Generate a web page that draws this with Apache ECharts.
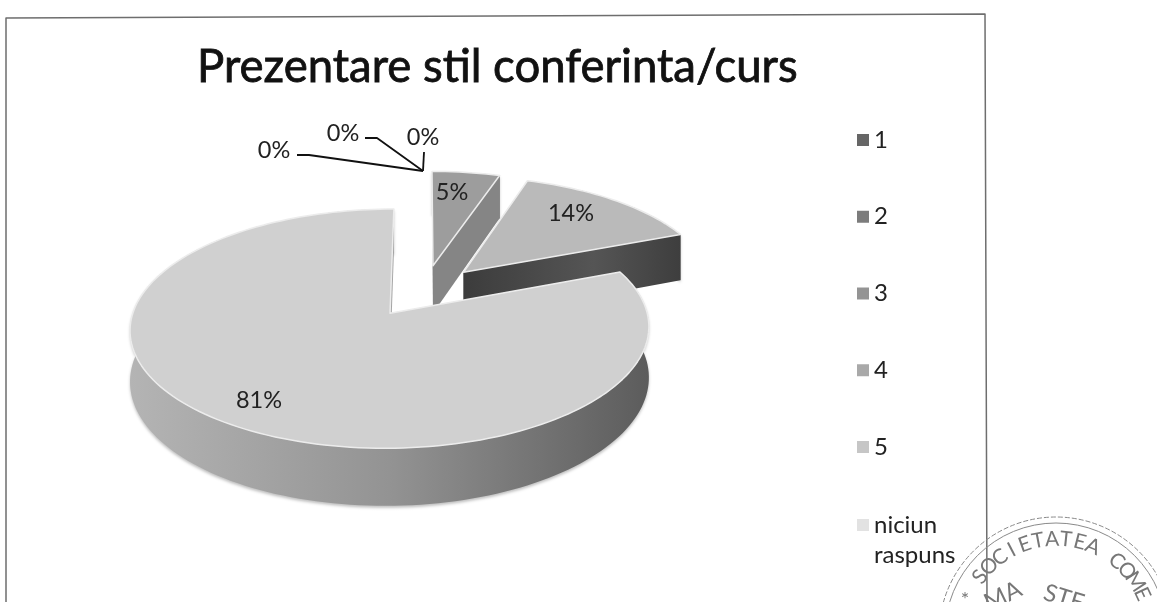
<!DOCTYPE html>
<html>
<head>
<meta charset="utf-8">
<title>Prezentare stil conferinta/curs</title>
<style>
  html, body { margin: 0; padding: 0; background: #fff; overflow: hidden; }
  #chart { width: 1157px; height: 602px; }
</style>
<script src="https://cdn.jsdelivr.net/npm/echarts@6/dist/echarts.min.js"></script>
</head>
<body>
<div id="chart"></div>
<script>
// date
const titleText = 'Prezentare stil conferinta/curs'
const categories = ['1', '2', '3', '4', '5', 'niciun raspuns']
const percents = [0, 0, 5, 14, 81, 0]
const legendColors = ['#666666', '#7c7c7c', '#949494', '#a9a9a9', '#c6c6c6', '#e2e2e2']
const stampOuter = 'SOCIETATEA COME'
const stampInner = ['MA', 'STE']

// culori pentru fiecare felie: fata de sus, taietura, peretele exterior
const topColors = ['#666666', '#7c7c7c', '#9d9d9d', '#bababa', '#d0d0d0', '#e2e2e2']
const cutColors = ['#555555', '#666666', '#858585', '#4a4a4a', '#a5a5a5', '#cccccc']

// proiectia discului: centru, raze, perspectiva, grosime, explozie
const CX = 424, CY = 291, RX = 251, RY = 112, PERSP = 0.125, THICK = 49, EXPLODE = 0.235
const FONT = 'Lato, "Open Sans", sans-serif'

// X spre dreapta, Y spre fundal, z = 0 sus, z = 1 jos
function project(X, Y, z) {
  let s = 1 / (1 + PERSP * Y)
  return [CX + RX * X * s, CY - s * (RY * Y - THICK * z)]
}

function sliceAngles(i) {
  let before = 0
  for (let k = 0; k < i; k++) before += percents[k]
  let a0 = before / 100 * Math.PI * 2
  let a1 = (before + percents[i]) / 100 * Math.PI * 2
  return [a0, a1]
}

function renderSlice(i) {
  return function () {
    if (!percents[i]) return null
    let [a0, a1] = sliceAngles(i)
    let mid = (a0 + a1) / 2
    let ox = EXPLODE * Math.sin(mid)
    let oy = EXPLODE * Math.cos(mid)
    let rimTop = []
    let rimBottom = []
    let steps = Math.max(4, Math.round((a1 - a0) / 0.03))
    for (let k = 0; k <= steps; k++) {
      let a = a0 + (a1 - a0) * k / steps
      rimTop.push(project(ox + Math.sin(a), oy + Math.cos(a), 0))
      rimBottom.push(project(ox + Math.sin(a), oy + Math.cos(a), 1))
    }
    let apexTop = project(ox, oy, 0)
    let apexBottom = project(ox, oy, 1)
    let first = rimTop[0], firstB = rimBottom[0]
    let last = rimTop[steps], lastB = rimBottom[steps]
    let wallFill = new echarts.graphic.LinearGradient(0, 0, 1, 0, [
      { offset: 0, color: '#b4b4b4' },
      { offset: 0.5, color: '#939393' },
      { offset: 1, color: '#5c5c5c' }
    ])
    let cutFill = i === 3
      ? new echarts.graphic.LinearGradient(0, 0, 1, 0, [
          { offset: 0, color: '#3c3c3c' },
          { offset: 0.6, color: '#555555' },
          { offset: 1, color: '#3e3e3e' }
        ])
      : cutColors[i]
    return {
      type: 'group',
      children: [
        {
          type: 'polygon',
          shape: { points: rimTop.concat(rimBottom.slice().reverse()) },
          style: { fill: wallFill, shadowBlur: 3, shadowColor: 'rgba(0,0,0,0.25)', shadowOffsetY: 2 }
        },
        {
          type: 'polygon',
          shape: { points: [apexTop, first, firstB, apexBottom] },
          style: { fill: cutFill }
        },
        {
          type: 'polygon',
          shape: { points: [apexTop, last, lastB, apexBottom] },
          style: { fill: cutFill }
        },
        {
          type: 'polygon',
          shape: { points: [apexTop].concat(rimTop) },
          style: { fill: topColors[i], stroke: '#ececec', lineWidth: 1.5, lineJoin: 'round' }
        }
      ]
    }
  }
}

function textItem(text, x, y, size, rotation, color) {
  return {
    type: 'text',
    x: x,
    y: y,
    rotation: rotation || 0,
    z: 20,
    style: {
      text: text,
      font: size + 'px ' + FONT,
      fill: color || '#222',
      textAlign: 'center',
      textVerticalAlign: 'middle'
    }
  }
}

function lineItem(points, color, width) {
  return {
    type: 'polyline',
    z: 15,
    shape: { points: points },
    style: { stroke: color, lineWidth: width, fill: 'none', lineJoin: 'round' }
  }
}

// cadrul, etichetele cu procente, liniile de legatura, stampila
let graphics = [
  lineItem([[6, 602], [6, 18], [985, 14], [987, 602]], '#6e6e6e', 1.5),
  lineItem([[297, 155], [309, 155], [423, 171]], '#111', 1.8),
  lineItem([[365, 138], [377, 138], [423, 171]], '#111', 1.8),
  lineItem([[424, 152], [423, 171]], '#111', 1.8),
  textItem(percents[0] + '%', 274, 150, 23.5),
  textItem(percents[1] + '%', 343, 133, 23.5),
  textItem(percents[5] + '%', 423, 137, 23.5),
  textItem(percents[2] + '%', 452, 192, 23.5),
  textItem(percents[3] + '%', 571, 213, 23.5),
  textItem(percents[4] + '%', 259, 400, 23.5)
]

const STAMP_X = 1056, STAMP_Y = 634
for (let r of [117, 111]) {
  graphics.push({
    type: 'circle',
    z: 16,
    shape: { cx: STAMP_X, cy: STAMP_Y, r: r },
    style: { fill: 'none', stroke: '#8a8a8a', lineWidth: 1, lineDash: r === 117 ? [5, 2] : null }
  })
}
stampOuter.split('').forEach(function (ch, k) {
  let a = (-53 + k * 8.43) * Math.PI / 180
  graphics.push(textItem(ch, STAMP_X + 95 * Math.sin(a), STAMP_Y - 95 * Math.cos(a), 21, -a, '#777'))
})
graphics.push(textItem('*', 965, 600, 20, 0, '#777'))
graphics.push(textItem(stampInner[0], 1003, 596, 24, 0.45, '#777'))
graphics.push(textItem(stampInner[1], 1064, 598, 24, -0.3, '#777'))

let series = categories.map(function (name, i) {
  return {
    type: 'custom',
    name: name,
    coordinateSystem: 'none',
    silent: true,
    itemStyle: { color: legendColors[i] },
    renderItem: renderSlice(i),
    data: [percents[i]]
  }
})

let legendText = { fontSize: 24, fontFamily: FONT, color: '#222', lineHeight: 30 }

let chart = echarts.init(document.getElementById('chart'), null, { renderer: 'canvas' })
chart.setOption({
  animation: false,
  backgroundColor: '#fff',
  title: {
    text: titleText,
    left: 197,
    top: 44,
    padding: 0,
    textStyle: {
      fontFamily: FONT,
      fontSize: 45.5,
      fontWeight: 'normal',
      color: '#111',
      textBorderColor: '#111',
      textBorderWidth: 0.8
    }
  },
  legend: [
    {
      orient: 'vertical',
      left: 857,
      top: 125,
      padding: 0,
      itemWidth: 12,
      itemHeight: 12,
      itemGap: 46.75,
      icon: 'rect',
      selectedMode: false,
      textStyle: legendText,
      data: categories.slice(0, 5)
    },
    {
      orient: 'vertical',
      left: 857,
      top: 480,
      padding: 0,
      itemWidth: 12,
      itemHeight: 12,
      icon: 'rect',
      selectedMode: false,
      textStyle: legendText,
      formatter: function () { return '\nniciun\nraspuns' },
      data: categories.slice(5)
    }
  ],
  graphic: graphics,
  series: series
})
</script>
</body>
</html>
